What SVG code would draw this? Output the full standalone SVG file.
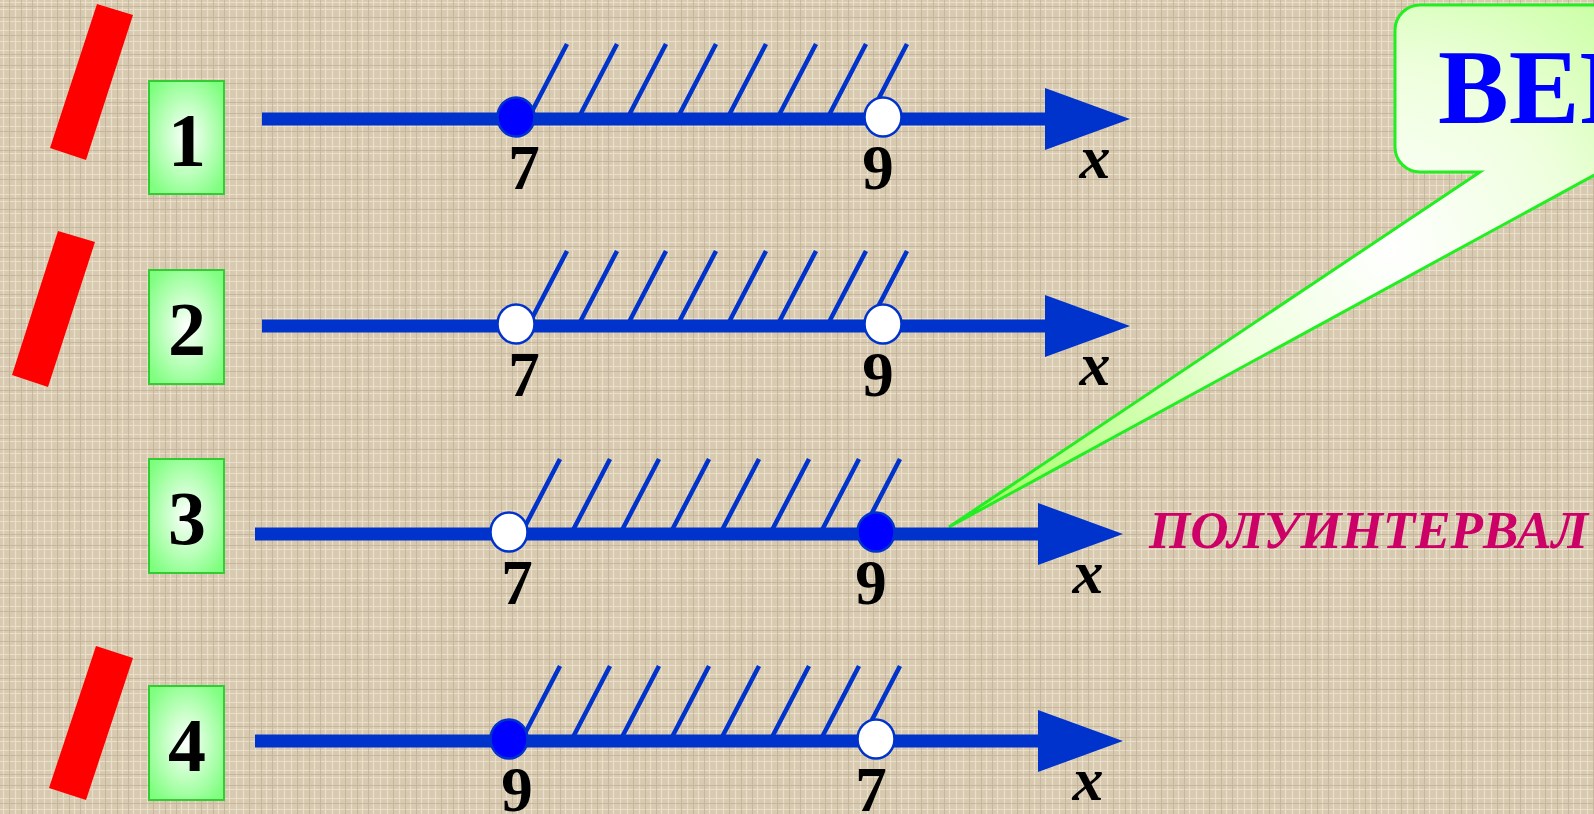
<svg xmlns="http://www.w3.org/2000/svg" width="1594" height="814" viewBox="0 0 1594 814">
<defs>
<style>
.bar{fill:#FF0000}
.box{fill:url(#boxGrad);stroke:#33CC33;stroke-width:2}
.num{font-family:"Liberation Serif","Times New Roman",serif;font-weight:bold;font-size:76px;fill:#000;text-anchor:middle}
.tick{font-family:"Liberation Serif","Times New Roman",serif;font-weight:bold;font-size:63px;fill:#000;text-anchor:middle}
.var{font-family:"Liberation Serif","Times New Roman",serif;font-weight:bold;font-style:italic;font-size:62px;fill:#000;text-anchor:middle}
.axis{stroke:#0033CC;stroke-width:13;fill:none}
.head{fill:#0033CC}
.hatch{stroke:#0033CC;stroke-width:4.5;fill:none}
.closed{fill:#0000FF;stroke:#0033CC;stroke-width:2.5}
.open{fill:#FFFFFF;stroke:#0033CC;stroke-width:2.5}
.callout{fill:url(#callGrad);stroke:#22EE22;stroke-width:3}
.big{font-family:"Liberation Serif","Times New Roman",serif;font-weight:bold;font-size:106px;fill:#0000FF}
.term{font-family:"Liberation Serif","Times New Roman",serif;font-weight:bold;font-style:italic;font-size:53px;fill:#CC0066}
</style>
<pattern id="linen" width="48" height="48" patternUnits="userSpaceOnUse">
<rect width="48" height="48" fill="#D8CAB0"/>
<g stroke="#E9DFCB" stroke-width="1.2">
<path d="M0 2.5H48M0 9.5H48M0 21.5H48M0 30.5H48M0 41.5H48"/>
<path d="M3.5 0V48M15.5 0V48M26.5 0V48M37.5 0V48M44.5 0V48"/>
</g>
<g stroke="#BFAE92" stroke-width="1" opacity="0.7">
<path d="M0 6.5H48M0 17.5H48M0 35.5H48"/>
<path d="M9.5 0V48M21.5 0V48M32.5 0V48"/>
</g>
</pattern>
<radialGradient id="boxGrad" cx="0.5" cy="0.5" r="0.62">
<stop offset="0" stop-color="#FFFFFF"/>
<stop offset="1" stop-color="#7FFF7F"/>
</radialGradient>
<radialGradient id="callGrad" gradientUnits="userSpaceOnUse" cx="1390" cy="250" r="520">
<stop offset="0" stop-color="#FFFFFF"/>
<stop offset="0.35" stop-color="#EEFFDD"/>
<stop offset="1" stop-color="#99FF55"/>
</radialGradient>
<g id="axisShape">
<path class="axis" d="M262 0H1050"/>
<polygon class="head" points="1045,-31 1130,0 1045,31"/>
</g>
<g id="hatch">
<path class="hatch" d="M528 0L567 -75M578 0L617 -75M627 0L666 -75M677 0L716 -75M727 0L766 -75M777 0L816 -75M827 0L866 -75M868 0L907 -75"/>
</g>
</defs>

<rect width="1594" height="814" fill="url(#linen)"/>

<g id="marks">
<polygon class="bar" points="97,4 133,15 86,160 50,148"/>
<polygon class="bar" points="58,231 95,242 48,387 12,375"/>
<polygon class="bar" points="96,646 133,658 86,800 49,788"/>
</g>

<g id="box1"><rect class="box" x="149" y="81" width="75" height="113"/><text class="num" x="187" y="166">1</text></g>
<g id="box2"><rect class="box" x="149" y="270" width="75" height="114"/><text class="num" x="187" y="355">2</text></g>
<g id="box3"><rect class="box" x="149" y="459" width="75" height="114"/><text class="num" x="187" y="544">3</text></g>
<g id="box4"><rect class="box" x="149" y="686" width="75" height="114"/><text class="num" x="187" y="771">4</text></g>

<g id="row1">
<use href="#hatch" transform="translate(0,119)"/>
<use href="#axisShape" transform="translate(0,119)"/>
<ellipse class="closed" cx="516" cy="117" rx="18.5" ry="19.5"/>
<ellipse class="open" cx="883" cy="117" rx="18.5" ry="19.5"/>
<text class="tick" x="524" y="189">7</text>
<text class="tick" x="878" y="189">9</text>
<text class="var" x="1095" y="178">x</text>
</g>

<g id="row2">
<use href="#hatch" transform="translate(0,326)"/>
<use href="#axisShape" transform="translate(0,326)"/>
<ellipse class="open" cx="516" cy="324" rx="18.5" ry="19.5"/>
<ellipse class="open" cx="883" cy="324" rx="18.5" ry="19.5"/>
<text class="tick" x="524" y="396">7</text>
<text class="tick" x="878" y="396">9</text>
<text class="var" x="1095" y="385">x</text>
</g>

<g id="callout">
<path class="callout" d="M1420 5H1640V172H1600L949 527L1480 172H1420A25 25 0 0 1 1395 147V30A25 25 0 0 1 1420 5Z"/>
<text class="big" x="1438" y="123">ВЕРНО</text>
</g>

<g id="row3">
<use href="#hatch" transform="translate(-7,534)"/>
<use href="#axisShape" transform="translate(-7,534)"/>
<ellipse class="open" cx="509" cy="532" rx="18.5" ry="19.5"/>
<ellipse class="closed" cx="876" cy="532" rx="18.5" ry="19.5"/>
<text class="tick" x="517" y="604">7</text>
<text class="tick" x="871" y="604">9</text>
<text class="var" x="1088" y="593">x</text>
</g>

<g id="row4">
<use href="#hatch" transform="translate(-7,741)"/>
<use href="#axisShape" transform="translate(-7,741)"/>
<ellipse class="closed" cx="509" cy="739" rx="18.5" ry="19.5"/>
<ellipse class="open" cx="876" cy="739" rx="18.5" ry="19.5"/>
<text class="tick" x="517" y="811">9</text>
<text class="tick" x="871" y="811">7</text>
<text class="var" x="1088" y="800">x</text>
</g>

<g id="label">
<text class="term" x="1149" y="548" textLength="439" lengthAdjust="spacingAndGlyphs">ПОЛУИНТЕРВАЛ</text>
</g>
</svg>
